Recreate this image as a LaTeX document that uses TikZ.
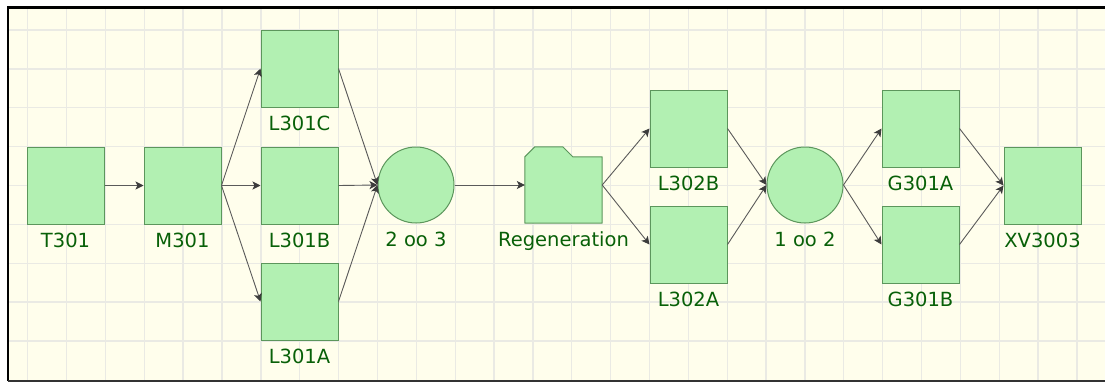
\documentclass[tikz,border=0pt]{standalone}
\usepackage{fontspec}
\setmainfont{DejaVu Sans}
\usetikzlibrary{arrows.meta}
\definecolor{bgc}{RGB}{255,254,236}
\definecolor{gridc}{RGB}{234,234,228}
\definecolor{nfill}{RGB}{178,240,178}
\definecolor{ndraw}{RGB}{92,150,92}
\definecolor{ltext}{RGB}{8,96,8}
\definecolor{edgec}{RGB}{90,90,90}
\definecolor{tipc}{RGB}{60,60,60}
\tikzset{
  box/.style={rectangle, minimum width=77pt, minimum height=77pt, inner sep=0pt, fill=nfill, draw=ndraw, line width=1pt},
  voter/.style={circle, minimum size=76pt, inner sep=0pt, fill=nfill, draw=ndraw, line width=1pt},
  ghost/.style={rectangle, minimum width=77pt, minimum height=76pt, inner sep=0pt},
  lbl/.style={anchor=base, inner sep=0pt, text=ltext, font=\fontsize{19.5}{20}\selectfont},
  conn/.style={draw=edgec, line width=0.9pt, -{Stealth[length=8pt,width=8pt,inset=2pt,fill=tipc,color=tipc]}},
  gridl/.style={draw=gridc, line width=1.3pt},
}
\begin{document}
\begin{tikzpicture}[x=1pt,y=-1pt]
\useasboundingbox (0,0) rectangle (1105,383);
\fill[white] (0,0) rectangle (1105,383);
\fill[bgc] (8,7) rectangle (1105,381);
\foreach \i in {0,...,27} \draw[gridl] ({27.7+38.86*\i},8) -- ({27.7+38.86*\i},380);
\foreach \j in {0,...,8} \draw[gridl] (9,{30+38.86*\j}) -- (1105,{30+38.86*\j});
\draw[black, line width=2.6pt] (8,381) -- (8,7.3) -- (1105,7.3);
\draw[black!80, line width=2pt] (8,381) -- (1105,381);

% nodes
\node[box] (T301) at (65.5,185.5) {};
\node[box] (M301) at (182.5,185.5) {};
\node[box] (L301C) at (299.5,68.5) {};
\node[box] (L301B) at (299.5,185.5) {};
\node[box] (L301A) at (299.5,301.5) {};
\node[voter] (V23) at (416,185) {};
\node[ghost] (REG) at (563.5,185) {};
\fill[nfill] (REG.south west) -- ([yshift=-10pt]REG.north west) -- ([xshift=10pt]REG.north west) -- ([xshift=38pt]REG.north west) -- ([xshift=48pt,yshift=-10pt]REG.north west) -- ([yshift=-10pt]REG.north east) -- (REG.south east) -- cycle;
\draw[ndraw, line width=1pt, line join=round] (REG.south west) -- ([yshift=-10pt]REG.north west) -- ([xshift=10pt]REG.north west) -- ([xshift=38pt]REG.north west) -- ([xshift=48pt,yshift=-10pt]REG.north west) -- ([yshift=-10pt]REG.north east) -- (REG.south east) -- cycle;
\node[box] (L302B) at (688.5,128.5) {};
\node[box] (L302A) at (688.5,244.5) {};
\node[voter] (V12) at (805,185) {};
\node[box] (G301A) at (920.5,128.5) {};
\node[box] (G301B) at (920.5,244.5) {};
\node[box] (XV3003) at (1042.5,185.5) {};

% labels
\node[lbl] (T301l) at ([yshift=-23pt]T301.south) {T301};
\node[lbl] (M301l) at ([yshift=-23pt]M301.south) {M301};
\node[lbl] (L301Cl) at ([yshift=-23pt]L301C.south) {L301C};
\node[lbl] (L301Bl) at ([yshift=-23pt]L301B.south) {L301B};
\node[lbl] (L301Al) at ([yshift=-23pt]L301A.south) {L301A};
\node[lbl] (V23l) at ([yshift=-23pt]V23.south) {2 oo 3};
\node[lbl] (REGl) at ([yshift=-23pt]REG.south) {Regeneration};
\node[lbl] (L302Bl) at ([yshift=-23pt]L302B.south) {L302B};
\node[lbl] (L302Al) at ([yshift=-23pt]L302A.south) {L302A};
\node[lbl] (V12l) at ([yshift=-23pt]V12.south) {1 oo 2};
\node[lbl] (G301Al) at ([yshift=-23pt]G301A.south) {G301A};
\node[lbl] (G301Bl) at ([yshift=-23pt]G301B.south) {G301B};
\node[lbl] (XV3003l) at ([yshift=-23pt]XV3003.south) {XV3003};

% connectors
\draw[conn] (T301.east) -- (M301.west);
\draw[conn] (M301.east) -- (L301C.west);
\draw[conn] (M301.east) -- (L301B.west);
\draw[conn] (M301.east) -- (L301A.west);
\draw[conn] (L301C.east) -- (V23.west);
\draw[conn] (L301B.east) -- (V23.west);
\draw[conn] (L301A.east) -- (V23.west);
\draw[conn] (V23.east) -- (REG.west);
\draw[conn] (REG.east) -- (L302B.west);
\draw[conn] (REG.east) -- (L302A.west);
\draw[conn] (L302B.east) -- (V12.west);
\draw[conn] (L302A.east) -- (V12.west);
\draw[conn] (V12.east) -- (G301A.west);
\draw[conn] (V12.east) -- (G301B.west);
\draw[conn] (G301A.east) -- (XV3003.west);
\draw[conn] (G301B.east) -- (XV3003.west);
\end{tikzpicture}
\end{document}
